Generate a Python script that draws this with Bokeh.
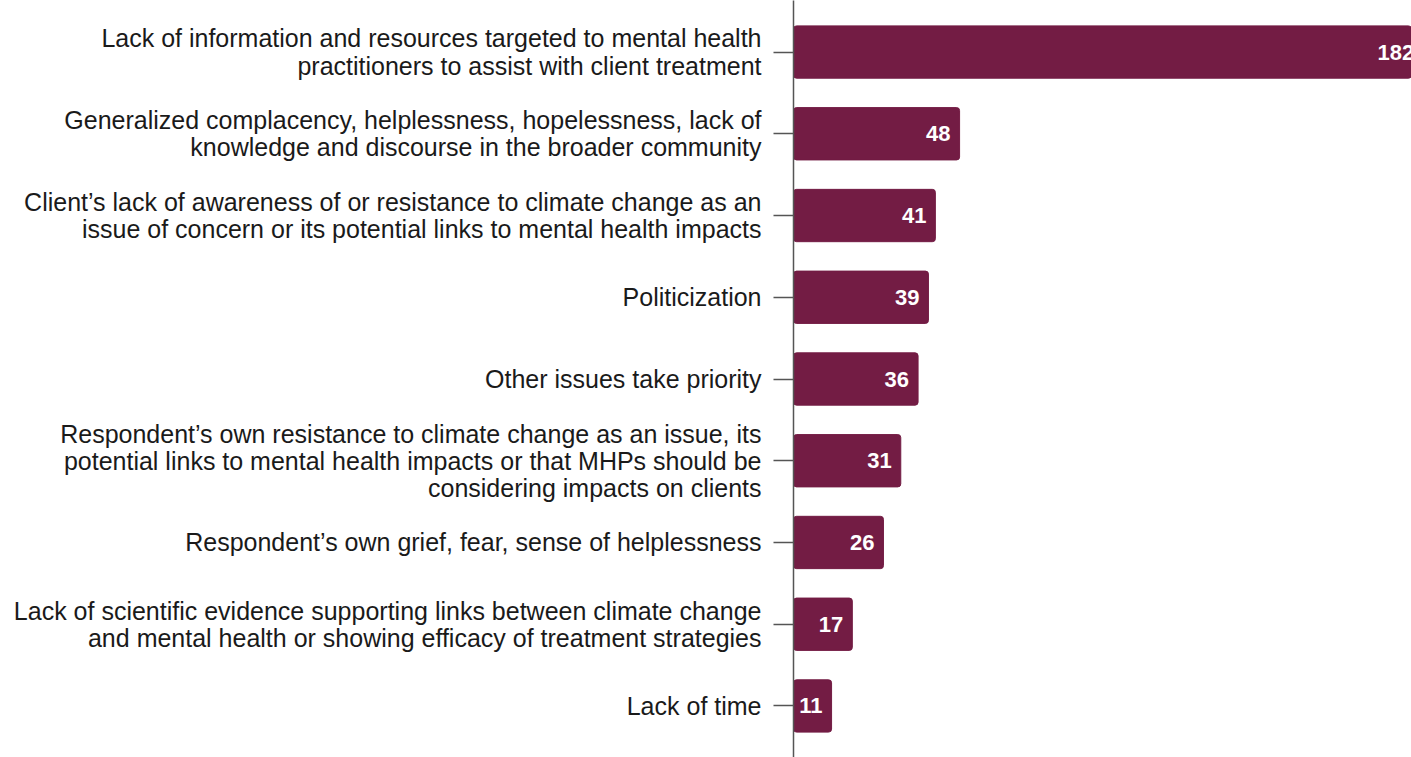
from bokeh.plotting import figure
from bokeh.models import ColumnDataSource, FactorRange
from bokeh.core.properties import value
from bokeh.embed import file_html
from bokeh.resources import INLINE

categories = [
    "Lack of information and resources targeted to mental health\npractitioners to assist with client treatment",
    "Generalized complacency, helplessness, hopelessness, lack of\nknowledge and discourse in the broader community",
    "Client\u2019s lack of awareness of or resistance to climate change as an\nissue of concern or its potential links to mental health impacts",
    "Politicization",
    "Other issues take priority",
    "Respondent\u2019s own resistance to climate change as an issue, its\npotential links to mental health impacts or that MHPs should be\nconsidering impacts on clients",
    "Respondent\u2019s own grief, fear, sense of helplessness",
    "Lack of scientific evidence supporting links between climate change\nand mental health or showing efficacy of treatment strategies",
    "Lack of time",
]
counts = [182, 48, 41, 39, 36, 31, 26, 17, 11]

source = ColumnDataSource(dict(cat=categories, n=counts, lbl=[str(c) for c in counts]))

yr = FactorRange(*list(reversed(categories)), range_padding=0.029)
p = figure(width=1411, height=757, y_range=yr, x_range=(0, 178.6),
           output_backend="svg", toolbar_location=None,
           min_border_left=793, min_border_right=0, min_border_top=0, min_border_bottom=0)

p.hbar(y="cat", right="n", left=0, height=0.64, source=source,
       fill_color="#731C44", line_color="#731C44", border_radius=3)
p.text(x="n", y="cat", text="lbl", source=source, x_offset=-9,
       text_align="right", text_baseline="middle", text_color="white",
       text_font=value("Liberation Sans"), text_font_style="bold", text_font_size="22px")

p.xaxis.visible = False
p.xgrid.visible = False
p.ygrid.visible = False
p.outline_line_color = None

ax = p.yaxis[0]
ax.axis_line_color = "#555555"
ax.axis_line_width = 1.5
ax.major_tick_line_color = "#555555"
ax.major_tick_line_width = 1.5
ax.major_tick_out = 20
ax.major_tick_in = 0
ax.minor_tick_line_color = None
ax.major_label_standoff = 12
ax.major_label_text_font = "Liberation Sans"
ax.major_label_text_font_size = "25px"
ax.major_label_text_color = "#1a1a1a"
ax.major_label_text_line_height = 0.97

open("out.html", "w").write(file_html(p, INLINE))
